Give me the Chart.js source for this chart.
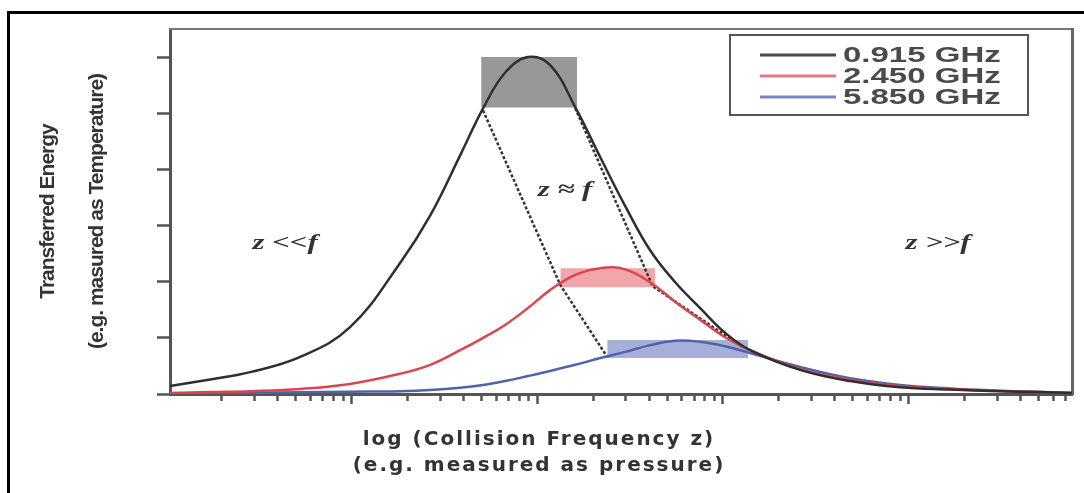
<!DOCTYPE html>
<html>
<head>
<meta charset="utf-8">
<script src="https://cdn.jsdelivr.net/npm/chart.js@4/dist/chart.umd.min.js"></script>
<style>
  html, body { margin: 0; padding: 0; background: #fff; }
  #wrap { position: relative; width: 1084px; height: 493px; overflow: hidden; }
  #frame { position: absolute; left: 7px; top: 11px; right: -10px; bottom: -10px;
           border-top: 3px solid #000; border-left: 3px solid #000; pointer-events: none; }
  canvas { display: block; }
</style>
</head>
<body>
<div id="wrap">
  <canvas id="c" width="1084" height="493"></canvas>
  <div id="frame"></div>
</div>
<script>
// ---------- data ----------
const collisionFrequency = [1.05, 1.73, 2.84, 5.28, 9.8, 18.2, 26.5, 38.4, 51.1, 67, 89, 117, 160, 218, 297, 405, 553, 754, 1026, 1400, 2600, 4840, 9000, 16700, 31000, 51000, 75900];
const energy0915 = [0.14, 0.26, 0.39, 0.66, 1.19, 2.33, 3.18, 4.25, 5.09, 5.72, 6.0, 5.86, 5.11, 4.22, 3.35, 2.56, 1.99, 1.53, 1.09, 0.78, 0.43, 0.23, 0.12, 0.08, 0.05, 0.035, 0.02];
const energy2450 = [0.02, 0.035, 0.05, 0.09, 0.18, 0.36, 0.52, 0.78, 1.0, 1.23, 1.53, 1.85, 2.12, 2.24, 2.22, 1.99, 1.64, 1.32, 1.01, 0.78, 0.44, 0.25, 0.14, 0.09, 0.055, 0.035, 0.02];
const energy5850 = [0.01, 0.01, 0.02, 0.03, 0.04, 0.05, 0.07, 0.11, 0.16, 0.23, 0.32, 0.41, 0.52, 0.64, 0.75, 0.87, 0.95, 0.93, 0.85, 0.73, 0.48, 0.28, 0.16, 0.10, 0.06, 0.035, 0.02];
const seriesLabels = ['0.915 GHz', '2.450 GHz', '5.850 GHz'];

// peak bands (x range, y range)
const band0915X = [49.8, 164];  const band0915Y = [5.1, 6.0];
const band2450X = [133, 431];   const band2450Y = [1.9, 2.24];
const band5850X = [238, 1364];  const band5850Y = [0.64, 0.96];

// dashed guide lines
const guideLeftX = [51, 133, 238];    const guideLeftY = [5.05, 1.94, 0.66];
const guideRightX = [160, 418, 1268]; const guideRightY = [5.09, 1.92, 0.84];

// region labels
const regionLabels = ['z <<f', 'z \u2248 f', 'z >>f'];
const regionLabelX = [4.38, 141, 14400];
const regionLabelY = [2.69, 3.63, 2.69];

// axes
const xMin = 1.05, xMax = 75900;
const yMin = 0, yMax = 6.5;
const yTickValues = [0, 1, 2, 3, 4, 5, 6];
const xTickMultipliers = [1, 2, 3, 4, 5, 6, 7, 8, 9];
const xTickDecades = [1, 10, 100, 1000, 10000];
const yTitleLines = ['Transferred Energy', '(e.g. masured as Temperature)'];
const xTitleLines = ['log (Collision Frequency z)', '(e.g. measured as pressure)'];

// ---------- build ----------
const xTickValues = xTickDecades.flatMap(d => xTickMultipliers.map(m => m * d)).filter(v => v > xMin && v < xMax);
const pts = (xs, ys) => xs.map((x, i) => ({x, y: ys[i]}));

const curveColors = ['#2f2f2f', '#d9474e', '#5063a8'];
const legendColors = ['#4a4a4a', '#e07b83', '#7885c2'];

function bandDataset(xs, ys, color) {
  return {
    label: '', data: [{x: xs[0], y: ys[1]}, {x: xs[1], y: ys[1]}],
    fill: {value: ys[0]}, backgroundColor: color, borderWidth: 0,
    pointRadius: 0, order: 10
  };
}
function guideDataset(xs, ys) {
  return {
    label: '', data: pts(xs, ys), borderColor: '#333', borderWidth: 2.5,
    borderDash: [3, 2], pointRadius: 0, tension: 0, fill: false, order: 5
  };
}
function curveDataset(i, ys) {
  return {
    label: seriesLabels[i], data: pts(collisionFrequency, ys), borderColor: curveColors[i],
    borderWidth: 2.5, pointRadius: 0, fill: false, tension: 0.4,
    order: 0, inLegend: true
  };
}

const overlayPlugin = {
  id: 'overlay',
  beforeDraw(chart) { chart.ctx.letterSpacing = '2px'; },
  afterDatasetsDraw(chart) {
    const ctx = chart.ctx;
    // spacing used by the y-axis title, drawn after this hook
    ctx.letterSpacing = '-1px';
    ctx.save();
    ctx.letterSpacing = '0px';
    const xs = chart.scales.x, ys = chart.scales.y;
    // region labels
    ctx.fillStyle = '#333';
    ctx.font = 'italic bold 22px "Liberation Serif", "DejaVu Serif", serif';
    ctx.textAlign = 'center';
    ctx.textBaseline = 'middle';
    regionLabels.forEach((t, i) => {
      ctx.save();
      ctx.translate(xs.getPixelForValue(regionLabelX[i]), ys.getPixelForValue(regionLabelY[i]));
      ctx.scale(1.4, 1);
      ctx.fillText(t, 0, 0);
      ctx.restore();
    });
    // legend
    const ca = chart.chartArea;
    const boxW = 298, boxH = 80;
    const left = ca.right - 44 - boxW, top = ca.top + 6;
    ctx.strokeStyle = '#555';
    ctx.lineWidth = 2;
    ctx.strokeRect(left, top, boxW, boxH);
    const items = chart.data.datasets.filter(d => d.inLegend);
    ctx.font = 'bold 22px "Liberation Sans", Arial, sans-serif';
    ctx.textAlign = 'left';
    ctx.textBaseline = 'middle';
    items.forEach((d, i) => {
      const rowY = top + 20 + i * 21;
      ctx.strokeStyle = legendColors[i];
      ctx.lineWidth = 3;
      ctx.beginPath();
      ctx.moveTo(left + 30, rowY);
      ctx.lineTo(left + 106, rowY);
      ctx.stroke();
      ctx.fillStyle = '#4a4a4a';
      ctx.save();
      ctx.translate(left + 113, rowY + 1);
      ctx.scale(1.5, 1);
      ctx.fillText(d.label, 0, 0);
      ctx.restore();
    });
    ctx.restore();
  }
};

new Chart(document.getElementById('c'), {
  type: 'line',
  data: {
    datasets: [
      bandDataset(band0915X, band0915Y, 'rgb(152,152,152)'),
      bandDataset(band2450X, band2450Y, 'rgba(238,150,158,0.85)'),
      bandDataset(band5850X, band5850Y, 'rgba(150,160,212,0.85)'),
      guideDataset(guideLeftX, guideLeftY),
      guideDataset(guideRightX, guideRightY),
      curveDataset(0, energy0915),
      curveDataset(1, energy2450),
      curveDataset(2, energy5850)
    ]
  },
  options: {
    responsive: false,
    animation: false,
    devicePixelRatio: 1,
    layout: {padding: {top: 29, right: 6, bottom: 0, left: 0}},
    plugins: {
      legend: {display: false},
      tooltip: {enabled: false},
      title: {
        display: true, position: 'bottom', text: xTitleLines, color: '#333',
        font: {family: '"DejaVu Sans", Verdana, sans-serif', weight: 'bold', size: 20, lineHeight: '26px'},
        padding: {top: 0, bottom: 14}
      }
    },
    scales: {
      x: {
        type: 'logarithmic', position: 'bottom', min: xMin, max: xMax, bounds: 'data',
        afterBuildTicks: s => { s.ticks = xTickValues.map(v => ({value: v, major: xTickDecades.includes(v)})); },
        afterFit: s => { s.height = 33; },
        ticks: {display: false},
        grid: {
          drawOnChartArea: false, drawTicks: true, tickLength: 10, tickWidth: 2.5, tickColor: '#555',
          tickBorderDash: c => (c.tick && c.tick.major) ? [] : [5, 30]
        },
        border: {display: true, color: '#555', width: 3}
      },
      y: {
        type: 'linear', position: 'left', min: yMin, max: yMax, bounds: 'data', weight: 1,
        afterBuildTicks: s => { s.ticks = yTickValues.map(v => ({value: v})); },
        afterFit: s => { s.width = 170; },
        ticks: {display: false},
        grid: {drawOnChartArea: false, drawTicks: true, tickLength: 13, tickWidth: 2.5, tickColor: '#555', z: 1},
        border: {display: false},
        title: {
          display: true, text: yTitleLines, color: '#333',
          font: {family: '"Liberation Sans", Arial, sans-serif', weight: 'bold', size: 21, lineHeight: '49px'},
          padding: {top: 23.5, bottom: 0}
        }
      },
      yLine: {
        type: 'linear', position: 'left', display: true, weight: -1,
        afterFit: s => { s.width = 0; },
        ticks: {display: false},
        grid: {drawOnChartArea: false, drawTicks: false},
        border: {display: true, color: '#555', width: 3}
      },
      xTop: {
        type: 'linear', position: 'top', display: true,
        afterFit: s => { s.height = 0; },
        ticks: {display: false},
        grid: {drawOnChartArea: false, drawTicks: false},
        border: {display: true, color: '#777', width: 2}
      },
      yRight: {
        type: 'linear', position: 'right', display: true,
        afterFit: s => { s.width = 6; },
        ticks: {display: false},
        grid: {drawOnChartArea: false, drawTicks: false},
        border: {display: true, color: '#666', width: 3}
      }
    }
  },
  plugins: [overlayPlugin]
});
</script>
</body>
</html>
